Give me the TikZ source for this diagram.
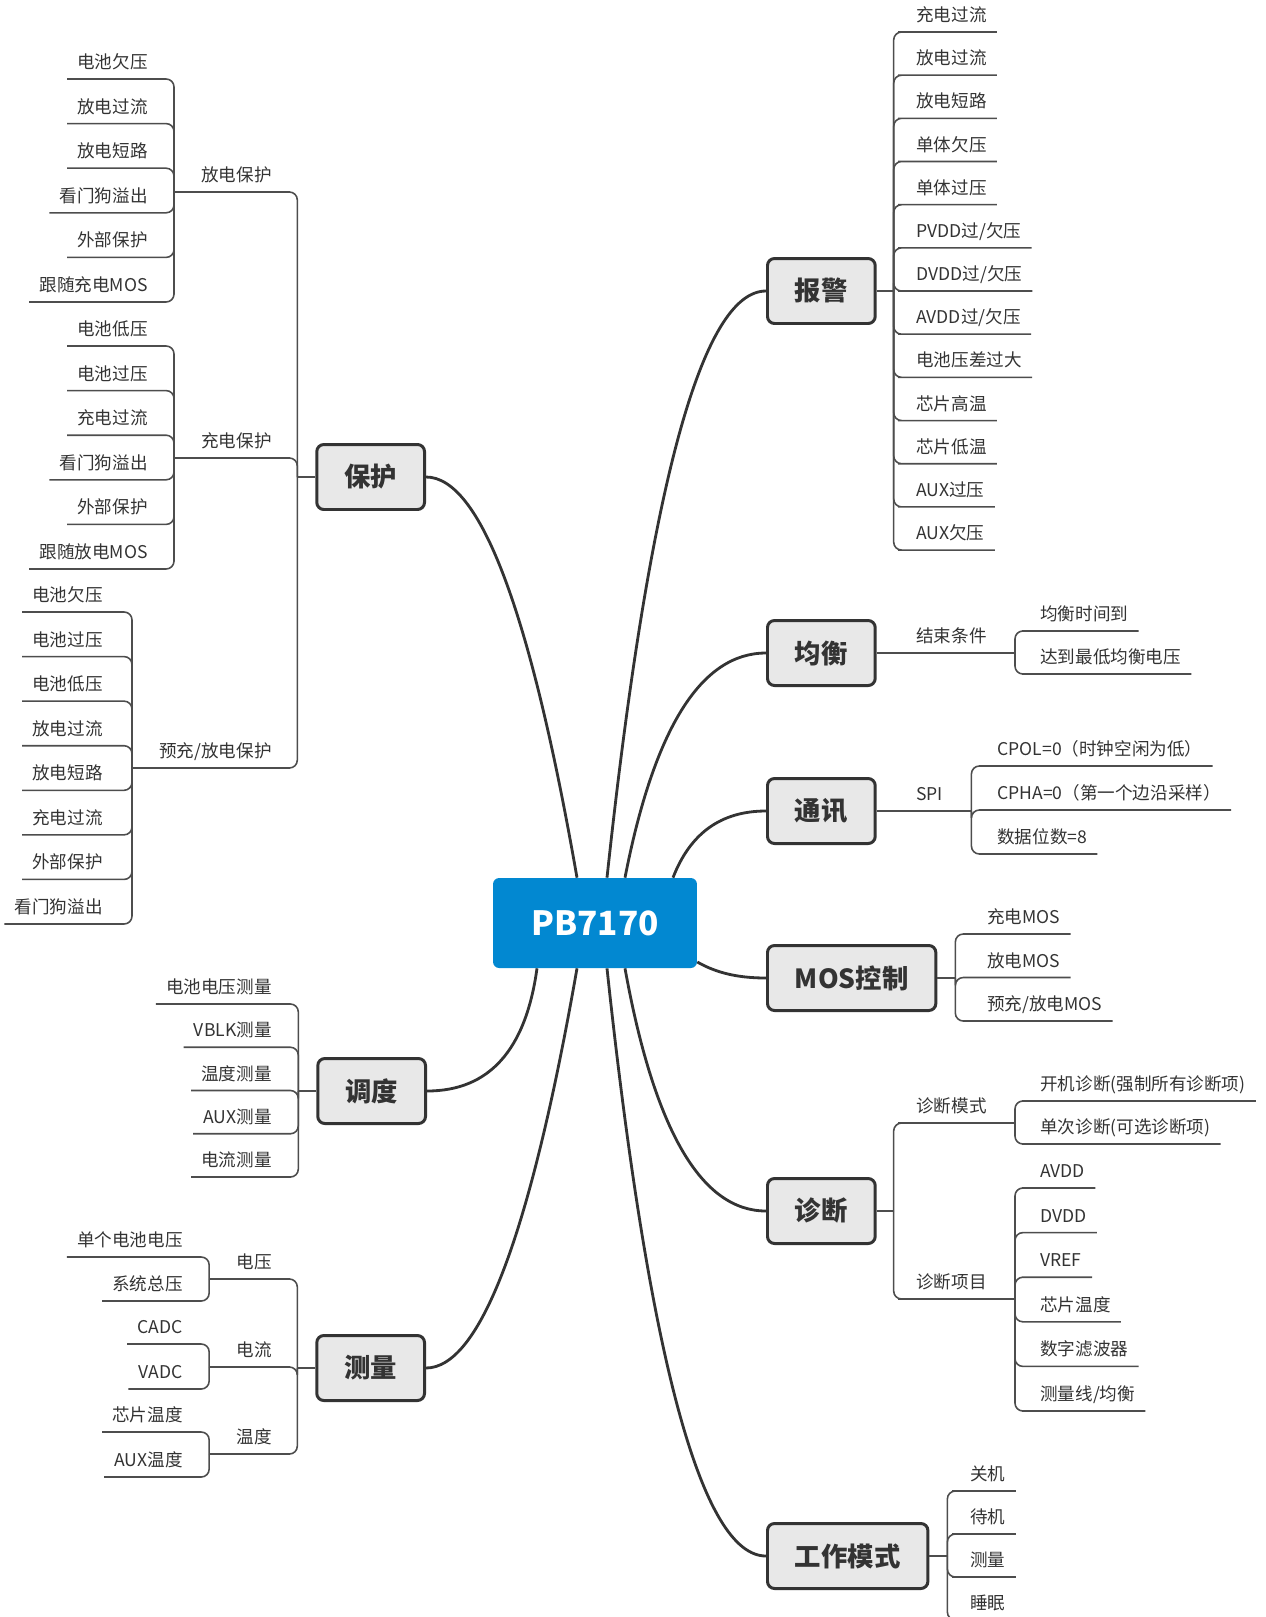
\documentclass[tikz,border=0pt]{standalone}
\usepackage{fontspec}
\setmainfont{Noto Sans CJK SC}
\usepackage{tikz}
\usetikzlibrary{positioning, calc}

\definecolor{pbblue}{HTML}{0288D1}
\definecolor{topicgray}{HTML}{E8E8E8}
\definecolor{inkgray}{HTML}{333333}
\definecolor{linegray}{HTML}{4D4D4D}

\tikzset{
    pbnode/.style={rectangle, rounded corners=3.5pt, fill=pbblue, text=white,
        font=\fontsize{19}{23}\selectfont\bfseries, minimum width=4.08cm, minimum height=1.8cm},
    topic/.style={rectangle, rounded corners=4pt, draw=inkgray, line width=1.7pt, fill=topicgray,
        text=inkgray, font=\fontsize{15}{18}\selectfont\bfseries, minimum height=1.3cm, inner xsep=0.55cm},
    leaf/.style={inner xsep=0.2cm, inner ysep=0.16cm, text=inkgray,
        font=\fontsize{10}{12}\selectfont, text height=0.88em, text depth=0.12em},
    mainline/.style={draw=inkgray, line width=1.6pt},
    branch/.style={draw=linegray, line width=0.9pt, rounded corners=4.5pt},
}

\begin{document}
\begin{tikzpicture}[x=0.02cm, y=-0.02cm]
    \clip (0,0) rectangle (1266,1617);

    \node[pbnode] (pb) at (595,923) {PB7170};

    \node[topic, anchor=east] (bh) at (426,477) {保护};
    \node[topic, anchor=east] (dd) at (427,1091) {调度};
    \node[topic, anchor=east] (cl) at (426,1368) {测量};
    \node[topic, anchor=west] (bj) at (766,291) {报警};
    \node[topic, anchor=west] (jh) at (766,653) {均衡};
    \node[topic, anchor=west] (tx) at (766,811) {通讯};
    \node[topic, anchor=west] (mos) at (766,978) {MOS控制};
    \node[topic, anchor=west] (zd) at (766,1211) {诊断};
    \node[topic, anchor=west] (gz) at (766,1556) {工作模式};

    \draw[mainline] ($(pb.north)+(-18,0)$) .. controls +(-46.7,-267.3) and +(54,0) .. (bh.east);
    \draw[mainline] ($(pb.north)+(12,0)$) .. controls +(42,-391.3) and +(-64,0) .. (bj.west);
    \draw[mainline] ($(pb.north)+(30,0)$) .. controls +(29.3,-150) and +(-64.7,0) .. (jh.west);
    \draw[mainline] ($(pb.north)+(78,0)$) .. controls +(17.3,-44.7) and +(-44.7,0) .. (tx.west);
    \draw[mainline] ($(pb.east)+(0,39)$) .. controls +(18.7,10.7) and +(-28.7,0) .. (mos.west);
    \draw[mainline] ($(pb.south)+(-58,0)$) .. controls +(-11.3,82) and +(62,0) .. (dd.east);
    \draw[mainline] ($(pb.south)+(-18,0)$) .. controls +(-46.7,266.7) and +(54,0) .. (cl.east);
    \draw[mainline] ($(pb.south)+(12,0)$) .. controls +(42,392) and +(-64,0) .. (gz.west);
    \draw[mainline] ($(pb.south)+(30,0)$) .. controls +(29.3,162) and +(-64.7,0) .. (zd.west);

    % 保护
    \draw[branch] (bh.west) -- ++(-18,0) coordinate (bhj);
    \node[leaf, anchor=south east] (fd) at (282,192) {放电保护};
    \node[leaf, anchor=south east] (cd) at (282,458) {充电保护};
    \node[leaf, anchor=south east] (yc) at (282,768) {预充/放电保护};
    \draw[branch] (bhj) |- (fd.south east) -- (fd.south west) -- ++(-17,0) coordinate (fdj);
    \draw[branch] (bhj) |- (cd.south east) -- (cd.south west) -- ++(-17,0) coordinate (cdj);
    \draw[branch] (bhj) |- (yc.south east) -- (yc.south west) -- ++(-17,0) coordinate (ycj);
    \foreach \t [count=\i from 0] in {电池欠压,放电过流,放电短路,看门狗溢出,外部保护,跟随充电MOS} {
        \node[leaf, anchor=south east] (fd\i) at (158,{79+44.6*\i}) {\t};
        \draw[branch] (fdj) |- (fd\i.south east) -- (fd\i.south west);
    }
    \foreach \t [count=\i from 0] in {电池低压,电池过压,充电过流,看门狗溢出,外部保护,跟随放电MOS} {
        \node[leaf, anchor=south east] (cd\i) at (158,{346+44.6*\i}) {\t};
        \draw[branch] (cdj) |- (cd\i.south east) -- (cd\i.south west);
    }
    \foreach \t [count=\i from 0] in {电池欠压,电池过压,电池低压,放电过流,放电短路,充电过流,外部保护,看门狗溢出} {
        \node[leaf, anchor=south east] (yc\i) at (113,{612+44.57*\i}) {\t};
        \draw[branch] (ycj) |- (yc\i.south east) -- (yc\i.south west);
    }

    % 调度
    \draw[branch] (dd.west) -- ++(-18,0) coordinate (ddj);
    \foreach \t [count=\i from 0] in {电池电压测量,VBLK测量,温度测量,AUX测量,电流测量} {
        \node[leaf, anchor=south east] (dd\i) at (282,{1004+43.25*\i}) {\t};
        \draw[branch] (ddj) |- (dd\i.south east) -- (dd\i.south west);
    }

    % 测量
    \draw[branch] (cl.west) -- ++(-18,0) coordinate (clj);
    \node[leaf, anchor=south east] (dy) at (282,1279) {电压};
    \node[leaf, anchor=south east] (dl) at (282,1367) {电流};
    \node[leaf, anchor=south east] (wd) at (282,1454) {温度};
    \draw[branch] (clj) |- (dy.south east) -- (dy.south west) -- ++(-17,0) coordinate (dyj);
    \draw[branch] (clj) |- (dl.south east) -- (dl.south west) -- ++(-17,0) coordinate (dlj);
    \draw[branch] (clj) |- (wd.south east) -- (wd.south west) -- ++(-17,0) coordinate (wdj);
    \node[leaf, anchor=south east] (dy0) at (193,1257) {单个电池电压};
    \node[leaf, anchor=south east] (dy1) at (193,1301) {系统总压};
    \node[leaf, anchor=south east] (dl0) at (193,1344) {CADC};
    \node[leaf, anchor=south east] (dl1) at (193,1389) {VADC};
    \node[leaf, anchor=south east] (wd0) at (193,1432) {芯片温度};
    \node[leaf, anchor=south east] (wd1) at (193,1477) {AUX温度};
    \foreach \g in {dy,dl,wd} {
        \draw[branch] (\g j) |- (\g0.south east) -- (\g0.south west);
        \draw[branch] (\g j) |- (\g1.south east) -- (\g1.south west);
    }

    % 报警
    \draw[branch] (bj.east) -- ++(17,0) coordinate (bjj);
    \foreach \t [count=\i from 0] in {充电过流,放电过流,放电短路,单体欠压,单体过压,PVDD过/欠压,DVDD过/欠压,AVDD过/欠压,电池压差过大,芯片高温,芯片低温,AUX过压,AUX欠压} {
        \node[leaf, anchor=south west] (bj\i) at (906,{32+43.17*\i}) {\t};
        \draw[branch] (bjj) |- (bj\i.south west) -- (bj\i.south east);
    }

    % 均衡
    \node[leaf, anchor=south west] (js) at (906,653) {结束条件};
    \draw[branch] (jh.east) -- (js.south west) -- (js.south east) -- ++(18,0) coordinate (jsj);
    \foreach \t [count=\i from 0] in {均衡时间到,达到最低均衡电压} {
        \node[leaf, anchor=south west] (js\i) at (1030,{631+43*\i}) {\t};
        \draw[branch] (jsj) |- (js\i.south west) -- (js\i.south east);
    }

    % 通讯
    \node[leaf, anchor=south west] (spi) at (906,811) {SPI};
    \draw[branch] (tx.east) -- (spi.south west) -- (spi.south east) -- ++(18,0) coordinate (spij);
    \foreach \t [count=\i from 0] in {CPOL=0（时钟空闲为低）,CPHA=0（第一个边沿采样）,数据位数=8} {
        \node[leaf, anchor=south west] (spi\i) at (987,{766+44*\i}) {\t};
        \draw[branch] (spij) |- (spi\i.south west) -- (spi\i.south east);
    }

    % MOS控制
    \draw[branch] (mos.east) -- ++(18,0) coordinate (mosj);
    \foreach \t [count=\i from 0] in {充电MOS,放电MOS,预充/放电MOS} {
        \node[leaf, anchor=south west] (mos\i) at (977,{934+43.5*\i}) {\t};
        \draw[branch] (mosj) |- (mos\i.south west) -- (mos\i.south east);
    }

    % 诊断
    \draw[branch] (zd.east) -- ++(17,0) coordinate (zdj);
    \node[leaf, anchor=south west] (zm) at (906,1123) {诊断模式};
    \node[leaf, anchor=south west] (zx) at (906,1299) {诊断项目};
    \draw[branch] (zdj) |- (zm.south west) -- (zm.south east) -- ++(18,0) coordinate (zmj);
    \draw[branch] (zdj) |- (zx.south west) -- (zx.south east) -- ++(18,0) coordinate (zxj);
    \foreach \t [count=\i from 0] in {开机诊断(强制所有诊断项),单次诊断(可选诊断项)} {
        \node[leaf, anchor=south west] (zm\i) at (1030,{1101+43*\i}) {\t};
        \draw[branch] (zmj) |- (zm\i.south west) -- (zm\i.south east);
    }
    \foreach \t [count=\i from 0] in {AVDD,DVDD,VREF,芯片温度,数字滤波器,测量线/均衡} {
        \node[leaf, anchor=south west] (zx\i) at (1030,{1188+44.6*\i}) {\t};
        \draw[branch] (zxj) |- (zx\i.south west) -- (zx\i.south east);
    }

    % 工作模式
    \draw[branch] (gz.east) -- ++(18,0) coordinate (gzj);
    \foreach \t [count=\i from 0] in {关机,待机,测量,睡眠} {
        \node[leaf, anchor=south west] (gz\i) at (960,{1491+43*\i}) {\t};
        \draw[branch] (gzj) |- (gz\i.south west) -- (gz\i.south east);
    }
\end{tikzpicture}
\end{document}
